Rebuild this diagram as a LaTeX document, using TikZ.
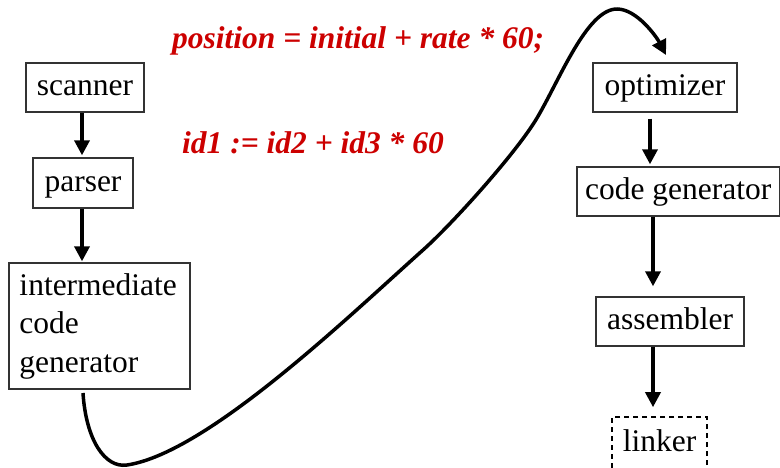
\documentclass[tikz,border=0pt]{standalone}
\usepackage{fontspec}
\setmainfont{Liberation Serif}
\usetikzlibrary{arrows.meta}
\definecolor{redtxt}{RGB}{204,0,0}
\begin{document}
\begin{tikzpicture}[x=1pt,y=-1pt,
 boxbase/.style={draw=black!80, line width=1.4pt, inner sep=0pt, font=\fontsize{31.5}{38.5}\selectfont},
 box/.style={boxbase, text height=23pt, text depth=7pt},
 arr/.style={line width=3.5pt, -{Triangle[length=15pt,width=15pt]}},
 redlabel/.style={text=redtxt, font=\fontsize{31.5}{38}\selectfont\bfseries\itshape, inner sep=0pt, anchor=base west}]
\useasboundingbox (0,0) rectangle (780,467);
% left column
\node[box, minimum width=118pt, minimum height=49pt] (scanner) at (85,87.5) {scanner};
\node[box, minimum width=100pt, minimum height=50pt] (parser) at (83,183) {parser};
\node[boxbase, minimum width=181pt, minimum height=126pt, text width=160pt, align=left] (icg) at (99.5,326) {intermediate\\code\\generator};
% right column
\node[box, minimum width=144pt, minimum height=49pt] (opt) at (665,87.5) {optimizer};
\node[box, minimum width=202.5pt, minimum height=49pt] (cg) at (678.25,191.5) {code generator};
\node[box, minimum width=148pt, minimum height=49pt] (asm) at (670,321.5) {assembler};
\node[box, draw=black, line width=1.6pt, dash pattern=on 5pt off 4pt, minimum width=95pt, minimum height=52pt] (lnk) at (659.5,443) {linker};
% red labels
\node[redlabel] (src) at (172,48) {position = initial + rate * 60;};
\node[redlabel] (ir) at (182,153) {id1 := id2 + id3 * 60};
% arrows
\coordinate (xl) at (82,0);
\coordinate (xr) at (650,0);
\coordinate (xs) at (653,0);
\draw[arr, shorten >=2pt] (scanner.south -| xl) -- (parser.north -| xl);
\draw[arr, shorten >=1pt] (parser.south -| xl) -- (icg.north -| xl);
\draw[arr, shorten >=2pt] ([yshift=-6pt]opt.south -| xr) -- (cg.north -| xr);
\draw[arr, shorten >=10pt] (cg.south -| xs) -- (asm.north -| xs);
\draw[arr, shorten >=9pt] (asm.south -| xs) -- (lnk.north -| xs);
% long curve
\coordinate (cs) at (83,393);
\coordinate (ce) at (666,55);
\draw[arr] (cs) .. controls (86,440) and (105,468.3) .. (127,465)
  .. controls (207,453) and (348,317) .. (423,250)
  .. controls (452.8,223.4) and (516.6,152.4) .. (537,118)
  .. controls (559.9,79.3) and (587,9) .. (617,9)
  .. controls (637,9) and (656.8,37.3) .. (ce);
\end{tikzpicture}
\end{document}
